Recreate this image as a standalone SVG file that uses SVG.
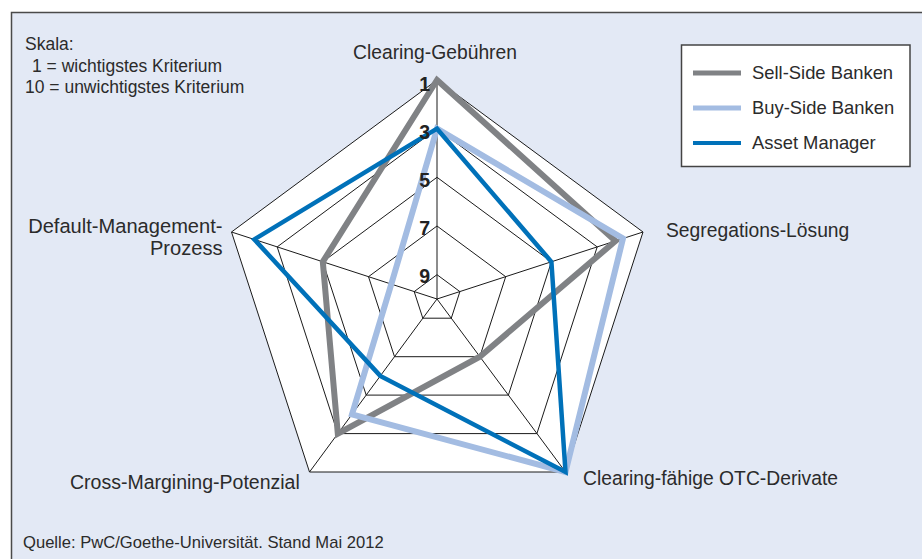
<svg xmlns="http://www.w3.org/2000/svg" width="922" height="559" viewBox="0 0 922 559">
<style>
text{font-family:"Liberation Sans",Arial,sans-serif;fill:#2b2b2b}
.ax{font-size:19.3px}
.sc{font-size:17.5px}
.lg{font-size:18.4px}
.num{font-size:19.5px;font-weight:700;text-anchor:end;fill:#222}
.grid{fill:none;stroke:#1a1a1a;stroke-width:1}
.s{fill:none;stroke:#808285;stroke-width:6;stroke-linejoin:miter}
.b{fill:none;stroke:#a3bce2;stroke-width:6;stroke-linejoin:miter}
.a{fill:none;stroke:#0071b9;stroke-width:4.5;stroke-linejoin:miter}
</style>
<rect x="0" y="0" width="922" height="559" fill="#ffffff"/>
<rect id="frame" x="11.5" y="12.5" width="930" height="570" fill="#e3e9f5" stroke="#4a4a4a" stroke-width="1.5"/>
<g id="scale">
<text class="sc" x="25" y="50">Skala:</text>
<text class="sc" x="32" y="72">1 = wichtigstes Kriterium</text>
<text class="sc" x="25" y="93">10 = unwichtigstes Kriterium</text>
</g>
<g id="grid">
<polygon points="437,80 643,232 565.5,472 309.5,472 231.5,232" fill="#ffffff" stroke="#1a1a1a" stroke-width="1"/>
<polygon class="grid" points="437,128.7 597.2,246.9 536.9,433.6 337.8,433.6 277.2,246.9"/>
<polygon class="grid" points="437,177.3 551.4,261.8 508.4,395.1 366.2,395.1 322.8,261.8"/>
<polygon class="grid" points="437,226 505.7,276.7 479.8,356.7 394.5,356.7 368.5,276.7"/>
<polygon class="grid" points="437,274.7 459.9,291.6 451.3,318.2 422.8,318.2 414.2,291.6"/>
<path class="grid" d="M437,299 L437,80 M437,299 L643,232 M437,299 L565.5,472 M437,299 L309.5,472 M437,299 L231.5,232"/>
</g>
<g id="series">
<polygon id="sell-side" class="s" points="437,80 615.5,241 479.8,356.7 337.8,433.6 322.8,261.8"/>
<polygon id="buy-side" class="b" points="437,128.7 623,238.5 565.5,472 352,414.3 391.3,284.1"/>
<polygon id="asset-manager" class="a" points="437,128.7 551.4,261.8 565.5,472 380.3,375.9 254.3,239.4"/>
</g>
<g id="numbers">
<text class="num" x="430" y="91">1</text>
<text class="num" x="430" y="139">3</text>
<text class="num" x="430" y="187">5</text>
<text class="num" x="430" y="235">7</text>
<text class="num" x="430" y="283">9</text>
</g>
<g id="axis-labels">
<text class="ax" x="435" y="59" text-anchor="middle">Clearing-Gebühren</text>
<text class="ax" x="666" y="237">Segregations-Lösung</text>
<text class="ax" x="583" y="485">Clearing-fähige OTC-Derivate</text>
<text class="ax" x="70" y="489" style="font-size:19.5px">Cross-Margining-Potenzial</text>
<text class="ax" x="222.5" y="233" text-anchor="end" style="font-size:20.1px">Default-Management-</text>
<text class="ax" x="222.5" y="255" text-anchor="end" style="font-size:20.1px">Prozess</text>
</g>
<g id="legend">
<rect x="681.5" y="45" width="228.5" height="121.5" fill="#ffffff" stroke="#444" stroke-width="1.5"/>
<line x1="693" y1="73" x2="741" y2="73" stroke="#808285" stroke-width="5"/>
<line x1="693" y1="108" x2="741" y2="108" stroke="#a3bce2" stroke-width="5"/>
<line x1="693" y1="143" x2="741" y2="143" stroke="#0071b9" stroke-width="4"/>
<text class="lg" x="752" y="78.5">Sell-Side Banken</text>
<text class="lg" x="752" y="113.5">Buy-Side Banken</text>
<text class="lg" x="752" y="148.5">Asset Manager</text>
</g>
<text class="sc" x="23" y="548" style="font-size:16.6px">Quelle: PwC/Goethe-Universität. Stand Mai 2012</text>
</svg>
